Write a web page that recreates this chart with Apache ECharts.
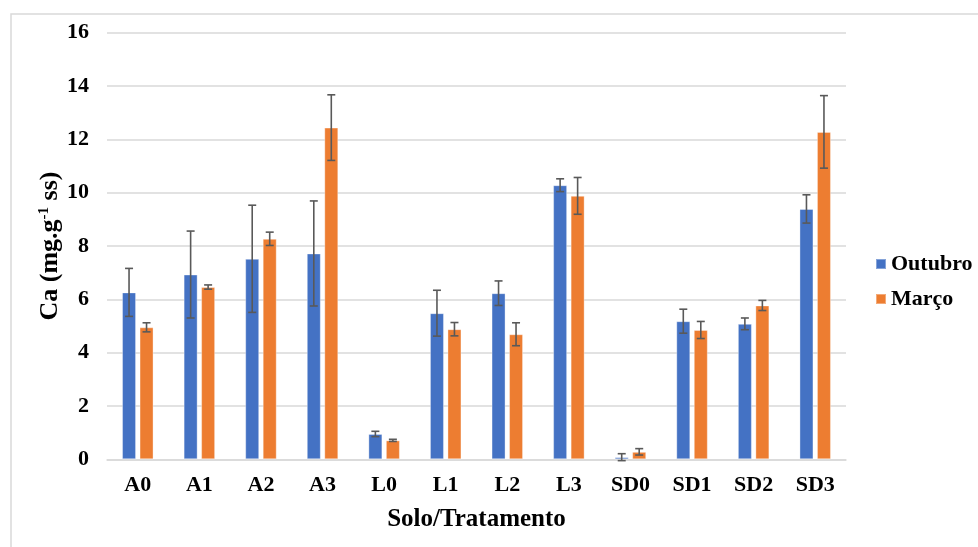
<!DOCTYPE html>
<html>
<head>
<meta charset="utf-8">
<title>Ca (mg.g-1 ss)</title>
<script src="https://cdn.jsdelivr.net/npm/echarts@6/dist/echarts.min.js"></script>
<style>
  html, body { margin: 0; padding: 0; background: #ffffff; }
  #chart { width: 978px; height: 547px; }
</style>
</head>
<body>
<div id="chart"></div>
<script>
// Soil / treatment categories
const categories = ['A0', 'A1', 'A2', 'A3', 'L0', 'L1', 'L2', 'L3', 'SD0', 'SD1', 'SD2', 'SD3'];

// Ca content (mg.g-1 ss), October sampling, with standard deviation
const outubro    = [6.26, 6.93, 7.52, 7.72, 0.95, 5.48, 6.23, 10.28, 0.08, 5.18, 5.08, 9.39];
const outubroErr = [0.90, 1.63, 2.01, 1.97, 0.10, 0.86, 0.46, 0.24, 0.13, 0.45, 0.22, 0.53];

// Ca content (mg.g-1 ss), March sampling, with standard deviation
const marco      = [4.95, 6.46, 8.27, 12.44, 0.71, 4.88, 4.69, 9.88, 0.28, 4.85, 5.77, 12.28];
const marcoErr   = [0.17, 0.08, 0.25, 1.23, 0.04, 0.25, 0.43, 0.69, 0.12, 0.32, 0.19, 1.36];

// Y axis ticks
const yMin = 0, yMax = 16, yStep = 2;

const FONT = '"Liberation Serif", "Times New Roman", serif';
const BAR_W = 14;
const BAR_GAP_PX = 3.5;
const SHIFT = (BAR_W + BAR_GAP_PX) / 2;

function errorBars(values, errs) {
  return values.map((v, i) => [i, v, errs[i]]);
}

function makeErrRender(offset) {
  return function (params, api) {
    const i = api.value(0);
    const v = api.value(1);
    const e = api.value(2);
    const hi = api.coord([i, v + e]);
    const lo = api.coord([i, v - e]);
    const x = hi[0] + offset;
    const cap = 4;
    const style = { stroke: '#595959', lineWidth: 1.6 };
    return {
      type: 'group',
      children: [
        { type: 'line', shape: { x1: x, y1: hi[1], x2: x, y2: lo[1] }, style },
        { type: 'line', shape: { x1: x - cap, y1: hi[1], x2: x + cap, y2: hi[1] }, style },
        { type: 'line', shape: { x1: x - cap, y1: lo[1], x2: x + cap, y2: lo[1] }, style }
      ]
    };
  };
}

const chart = echarts.init(document.getElementById('chart'), null, { renderer: 'canvas' });

chart.setOption({
  backgroundColor: '#ffffff',
  animation: false,
  textStyle: { fontFamily: FONT },
  graphic: [{
    type: 'rect',
    left: 8.5, top: 11.5,
    shape: { x: 0, y: 0, width: 1000, height: 600 },
    style: { fill: 'none', stroke: '#d9d9d9', lineWidth: 1.5 },
    silent: true
  }],
  grid: { left: 107, right: 132, top: 32.7, bottom: 87.7 },
  legend: {
    orient: 'vertical',
    left: 875,
    top: 253,
    padding: 0,
    itemWidth: 10,
    itemHeight: 10,
    itemGap: 13,
    icon: 'rect',
    textStyle: { fontFamily: FONT, fontWeight: 'bold', fontSize: 22, color: '#000000', padding: [0, 0, 0, 0] },
    data: ['Outubro', 'Março']
  },
  xAxis: {
    type: 'category',
    data: categories,
    name: 'Solo/Tratamento',
    nameLocation: 'middle',
    nameGap: 48,
    nameMoveOverlap: false,
    nameTextStyle: { fontFamily: FONT, fontWeight: 'bold', fontSize: 25, color: '#000000' },
    axisLine: { show: true, lineStyle: { color: '#d9d9d9', width: 1.5 } },
    axisTick: { show: false },
    axisLabel: { fontFamily: FONT, fontWeight: 'bold', fontSize: 22, color: '#000000', margin: 15 }
  },
  yAxis: {
    type: 'value',
    min: yMin,
    max: yMax,
    interval: yStep,
    name: '{a|Ca (mg.g}{s|-1}{a| ss)}',
    nameLocation: 'middle',
    nameRotate: 90,
    nameGap: 42,
    nameMoveOverlap: false,
    nameTextStyle: {
      fontFamily: FONT, fontWeight: 'bold', color: '#000000',
      rich: {
        a: { fontFamily: FONT, fontWeight: 'bold', fontSize: 26, color: '#000000', lineHeight: 30 },
        s: { fontFamily: FONT, fontWeight: 'bold', fontSize: 15, color: '#000000', lineHeight: 15, verticalAlign: 'top', padding: [2, 0, 0, 0] }
      }
    },
    axisLine: { show: false },
    axisTick: { show: false },
    axisLabel: { fontFamily: FONT, fontWeight: 'bold', fontSize: 22, color: '#000000', margin: 18 },
    splitLine: { show: true, lineStyle: { color: '#d9d9d9', width: 1.5 } }
  },
  series: [
    {
      name: 'Outubro',
      type: 'bar',
      data: outubro,
      barWidth: BAR_W,
      barGap: '25%',
      itemStyle: { color: '#4472c4', borderColor: 'rgba(255,255,255,0.35)', borderWidth: 1 }
    },
    {
      name: 'Março',
      type: 'bar',
      data: marco,
      barWidth: BAR_W,
      barGap: '25%',
      itemStyle: { color: '#ed7d31', borderColor: 'rgba(255,255,255,0.35)', borderWidth: 1 }
    },
    {
      name: 'Outubro SD',
      type: 'custom',
      data: errorBars(outubro, outubroErr),
      encode: { x: 0, y: 1 },
      renderItem: makeErrRender(-SHIFT),
      z: 10,
      silent: true
    },
    {
      name: 'Março SD',
      type: 'custom',
      data: errorBars(marco, marcoErr),
      encode: { x: 0, y: 1 },
      renderItem: makeErrRender(SHIFT),
      z: 10,
      silent: true
    }
  ]
});
</script>
</body>
</html>
